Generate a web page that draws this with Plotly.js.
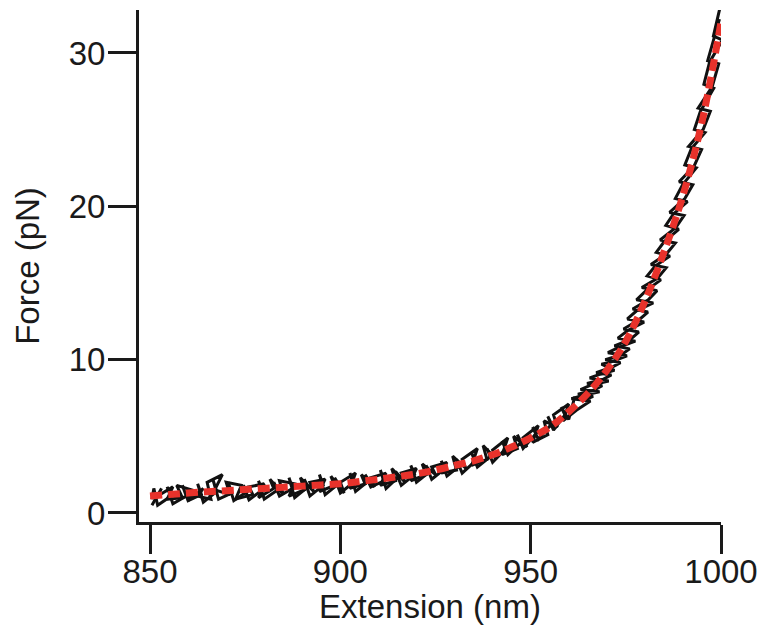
<!DOCTYPE html>
<html>
<head>
<meta charset="utf-8">
<script src="https://cdn.plot.ly/plotly-3.0.1.min.js"></script>
<style>
html,body{margin:0;padding:0;background:#fff;}
#chart{width:763px;height:625px;}
</style>
</head>
<body>
<div id="chart"></div>
<script>
// Stretching trace (black)
const extX = [850.5,853,852,856,854.5,858.5,857,861,860,864,862.5,866,865,869,867,871,870,874,872.5,877,876,880,878.5,882.5,881.5,885,884,888,886.5,890.5,889.5,893,892,896,894.5,898.5,897.5,901,900,904,902.5,906.5,905.5,909,908,912,910.5,914.5,913.5,917,916,920,918.5,922.5,921.5,925,924,928,926.5,930.5,929.5,933,932,936,934.5,938.5,937.5,941,940,944,942.5,946.5,945.5,949,948,952,950.5,954.5,953.5,957,956,960,958.5,962,
  965.7,960.7,963.5,968.1,963.1,965.9,970.5,965.5,968.3,972.0,968.6,971.2,975.3,970.3,973.1,977.5,972.9,975.5,979.8,975.4,977.9,982.2,977.8,980.3,984.2,980.6,982.7,986.6,983,985.1,988.9,985.5,987.5,991.2,988,989.9,993.5,990.5,992.2,995.8,993,994.6,998.1,995.5,997.0,1000.4,998,999.4,1000];
const extY = [0.5,1.6,1.1,1.7,0.9,1.0,1.8,1.5,0.8,1.6,1.1,0.9,2.0,2.5,1.5,1.2,2.0,1.8,0.9,1.2,1.7,1.9,1.0,1.6,2.2,1.2,2.1,1.9,1.1,1.5,2.3,1.4,2.0,2.2,1.4,1.8,2.4,1.3,2.0,2.6,1.6,1.9,2.5,1.7,2.3,2.6,1.8,2.1,2.9,2.0,2.6,2.9,2.1,2.5,3.2,2.5,3.0,3.3,2.6,2.8,3.7,2.9,3.5,4.2,3.1,3.5,4.4,3.5,4.1,4.9,3.8,4.2,5.0,4.3,4.9,5.7,4.6,5.1,6.0,5.6,6.4,7.1,6.0,6.7,
  7.3,7.45,7.65,7.9,8.05,8.35,8.6,8.8,9.05,9.3,9.7,9.85,10.25,10.45,10.8,11.2,11.4,11.9,12.45,12.65,13.2,13.7,13.9,14.5,15.2,15.45,16.1,16.75,17.0,17.7,18.5,18.75,19.5,20.3,20.5,21.4,22.5,22.7,23.75,24.8,25.0,26.2,27.7,27.95,29.4,30.85,31.1,32.6,33.2];
// Relaxing trace (black)
const relX = [999.6,996.5,999.4,997.7,994,997.2,995.3,991.5,994.9,992.9,989,992.6,990.5,986.5,990.3,988.1,984,988,985.7,981.6,985.6,983.3,979.2,983.2,980.9,976.8,980.8,978.5,974.4,978.4,976.1,972,976,973.7,969.6,973.6,971.3,967.2,971.2,968.9,964.8,968.8,966.5,962.4,966.4,964.1,
  961.5,960,958,959,956,954.5,955.5,952,950.5,951.5,948,946.5,947.5,944,942.5,943.5,940,938.5,939.5,936,934.5,935.5,932,930.5,931.5,928,926.5,927.5,924,922.5,923.5,920,918.5,919.5,916,914.5,915.5,912,910.5,911.5,908,906.5,907.5,904,902.5,903.5,900,898.5,899.5,896,894.5,895.5,892,890.5,891.5,888,886.5,887.5,884,882.5,883.5,880,878.5,879.5,876,874.5,875.5,872,870.5,871.5,868,866.5,867.5,864,862.5,863.5,860,858.5,859.5,856,854.5,855.5,852,851,850.5];
const relY = [32.2,29.5,29.3,27.8,26.4,26.2,25.0,23.9,23.7,22.6,21.6,21.4,20.5,19.6,19.4,18.6,17.8,17.6,16.9,16.2,16.0,15.3,14.7,14.5,13.9,13.3,13.1,12.6,12.0,11.8,11.3,10.9,10.7,10.3,10.0,9.8,9.5,9.15,9.0,8.7,8.45,8.3,8.0,7.75,7.6,7.35,
  7.5,6.1,6.9,6.4,5.4,6.3,5.8,4.8,5.6,5.2,4.2,5.1,4.6,3.8,4.7,4.2,3.3,4.2,3.7,3.0,3.9,3.4,2.6,3.5,3.1,2.4,3.4,2.9,2.2,3.1,2.7,2.0,3.1,2.5,1.8,2.7,2.4,1.6,2.8,2.1,1.7,2.5,2.1,1.4,2.6,2.0,1.3,2.3,1.9,1.2,2.5,1.8,1.1,2.2,1.7,1.0,2.3,1.6,1.1,2.0,1.5,0.9,2.1,1.5,0.85,1.8,1.4,0.8,2.0,1.3,0.9,2.2,1.4,0.7,1.9,1.2,0.8,1.8,1.1,0.6,1.7,1.1,0.5,1.6,0.9];
// Fit (red dashed)
const fitX = [850,855,860,865,870,875,880,885,890,895,900,905,910,915,920,925,930,935,940,945,950,955,960,965,970,975,980,985,990,995,1000];
const fitY = [1.10,1.20,1.30,1.38,1.45,1.53,1.60,1.68,1.75,1.83,1.90,2.05,2.20,2.37,2.55,2.80,3.10,3.40,3.80,4.30,4.90,5.60,6.60,7.80,9.30,11.2,13.8,17.0,20.7,25.5,32.0];

const xTicks = [850,900,950,1000];
const yTicks = [0,10,20,30];
const xTitle = 'Extension (nm)';
const yTitle = 'Force (pN)';

const FONT = 'Liberation Sans, Arial, Helvetica, sans-serif';
const FS = 33;

const traces = [
  {x: extX, y: extY, mode:'lines', line:{color:'#111111', width:3}, hoverinfo:'skip', showlegend:false},
  {x: relX, y: relY, mode:'lines', line:{color:'#111111', width:3}, hoverinfo:'skip', showlegend:false},
  {x: fitX, y: fitY, mode:'lines', line:{color:'#e8322b', width:7, dash:'12px,6px', shape:'spline'}, hoverinfo:'skip', showlegend:false}
];

const layout = {
  width:763, height:625,
  margin:{l:139, r:42, t:10, b:103},
  paper_bgcolor:'#ffffff', plot_bgcolor:'#ffffff',
  font:{family:FONT, size:FS, color:'#1a1a1a'},
  showlegend:false,
  xaxis:{
    range:[847.1,1000], tickmode:'array', tickvals:xTicks, ticktext:xTicks.map(String),
    showgrid:false, zeroline:false, showline:true, linecolor:'#1a1a1a', linewidth:3,
    ticks:'outside', ticklen:29, tickwidth:3, tickcolor:'#1a1a1a',
    ticklabelstandoff:-11,
    tickfont:{family:FONT, size:FS, color:'#1a1a1a'},
    title:{text:xTitle, font:{family:FONT, size:FS, color:'#1a1a1a'}, standoff:5},
    automargin:false
  },
  yaxis:{
    range:[-0.59,32.8], tickmode:'array', tickvals:yTicks, ticktext:yTicks.map(String),
    showgrid:false, zeroline:false, showline:true, linecolor:'#1a1a1a', linewidth:3,
    ticks:'outside', ticklen:28, tickwidth:3, tickcolor:'#1a1a1a',
    ticklabelstandoff:-4,
    tickfont:{family:FONT, size:FS, color:'#1a1a1a'},
    title:{text:yTitle, font:{family:FONT, size:FS, color:'#1a1a1a'}, standoff:20},
    automargin:false
  }
};

Plotly.newPlot('chart', traces, layout, {staticPlot:true, displayModeBar:false});
</script>
</body>
</html>
